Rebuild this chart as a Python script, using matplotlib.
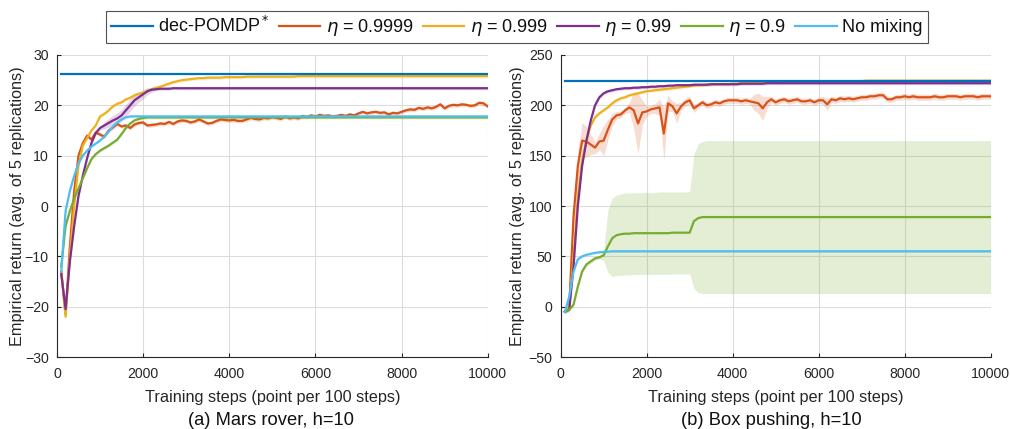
import numpy as np
import matplotlib
matplotlib.use("Agg")
import matplotlib.pyplot as plt

plt.rcParams['font.family'] = ['Liberation Sans', 'DejaVu Sans']
plt.rcParams['mathtext.fontset'] = 'dejavusans'

steps = list(range(100, 10001, 100))

labels = ['dec-POMDP$^*$', r'$\eta$ = 0.9999', r'$\eta$ = 0.999', r'$\eta$ = 0.99',
          r'$\eta$ = 0.9', 'No mixing']
colors = ['#0072BD', '#D95319', '#EDB120', '#7E2F8E', '#77AC30', '#4DBEEE']

# ---------------- Mars rover ----------------
mars_opt = 26.3
mars_e9999 = [-13, -21.5, -8, 3, 10, 12.5, 14, 13.2, 14.6, 14.2,
              13.8, 15, 15.6, 16.3, 15.8, 16, 15.5, 16.2, 16.5, 16.6,
              16, 16.1, 16.2, 16.4, 16.3, 16.7, 16.3, 16.8, 17, 16.9,
              16.6, 16.8, 17.2, 16.8, 16.4, 16.5, 16.9, 17.2, 17.1, 17,
              17.1, 16.9, 16.9, 17.2, 17.5, 17.3, 17.2, 17.5, 17.4, 17.7,
              17.5, 17.3, 17.8, 17.4, 17.6, 17.4, 17.9, 17.7, 18, 17.8,
              18.1, 17.9, 18, 17.8, 17.9, 18.1, 17.9, 18.2, 18, 18.4,
              18.7, 18.4, 18.6, 18.7, 18.5, 18.6, 18.2, 18.5, 18.4, 18.7,
              19, 19.2, 19.1, 19.5, 19.3, 19.6, 19.4, 19.7, 20.2, 19.4,
              19.9, 20.1, 20, 20.2, 20.1, 19.9, 20, 20.5, 20.4, 19.8]
mars_e999 = [-13, -22, -10, 0, 8, 12, 13.5, 15, 16, 17.8,
             18.3, 19, 19.8, 20.3, 20.6, 21.2, 21.5, 22, 22.3, 22.5,
             22.9, 23.2, 23.5, 23.7, 24, 24.3, 24.6, 24.8, 25, 25.1,
             25.2, 25.3, 25.4, 25.4, 25.5, 25.5, 25.5, 25.5, 25.6, 25.6,
             25.6, 25.6, 25.6, 25.7, 25.7, 25.7, 25.7, 25.7, 25.7, 25.7,
             25.7, 25.7, 25.7, 25.7, 25.7, 25.8, 25.8, 25.8, 25.8, 25.8,
             25.8, 25.8, 25.8, 25.8, 25.8, 25.8, 25.8, 25.8, 25.8, 25.8,
             25.8, 25.8, 25.8, 25.8, 25.8, 25.8, 25.8, 25.8, 25.8, 25.8,
             25.8, 25.8, 25.8, 25.8, 25.8, 25.8, 25.8, 25.8, 25.8, 25.8,
             25.8, 25.8, 25.8, 25.8, 25.8, 25.8, 25.8, 25.8, 25.8, 25.8]
mars_e99 = [-13.5, -20.5, -11, -4, 2, 6, 9.5, 12.5, 14.5, 15.5,
            16, 16.5, 17, 17.4, 18, 19, 20, 21, 21.6, 22.2,
            22.8, 23.1, 23.2, 23.3, 23.3, 23.3, 23.4, 23.4, 23.4, 23.4,
            23.4, 23.4, 23.4, 23.4, 23.4, 23.4, 23.4, 23.4, 23.4, 23.4,
            23.4, 23.4, 23.4, 23.4, 23.4, 23.4, 23.4, 23.4, 23.4, 23.4,
            23.4, 23.4, 23.4, 23.4, 23.4, 23.4, 23.4, 23.4, 23.4, 23.4,
            23.4, 23.4, 23.4, 23.4, 23.4, 23.4, 23.4, 23.4, 23.4, 23.4,
            23.4, 23.4, 23.4, 23.4, 23.4, 23.4, 23.4, 23.4, 23.4, 23.4,
            23.4, 23.4, 23.4, 23.4, 23.4, 23.4, 23.4, 23.4, 23.4, 23.4,
            23.4, 23.4, 23.4, 23.4, 23.4, 23.4, 23.4, 23.4, 23.4, 23.4]
mars_e9 = [-12, -4, -1, 1.5, 3.5, 5.5, 7.5, 9.3, 10.3, 11,
           11.5, 12, 12.6, 13.2, 14.3, 15.5, 16.4, 17, 17.3, 17.5,
           17.6, 17.6, 17.6, 17.6, 17.6, 17.6, 17.6, 17.6, 17.6, 17.6,
           17.6, 17.6, 17.6, 17.6, 17.6, 17.6, 17.6, 17.6, 17.6, 17.6,
           17.6, 17.6, 17.6, 17.6, 17.6, 17.6, 17.6, 17.6, 17.6, 17.6,
           17.6, 17.6, 17.6, 17.6, 17.6, 17.6, 17.6, 17.6, 17.6, 17.6,
           17.6, 17.6, 17.6, 17.6, 17.6, 17.6, 17.6, 17.6, 17.6, 17.6,
           17.6, 17.6, 17.6, 17.6, 17.6, 17.6, 17.6, 17.6, 17.6, 17.6,
           17.6, 17.6, 17.6, 17.6, 17.6, 17.6, 17.6, 17.6, 17.6, 17.6,
           17.6, 17.6, 17.6, 17.6, 17.6, 17.6, 17.6, 17.6, 17.6, 17.6]
mars_nomix = [-13, -1, 3, 6, 8.5, 10, 11, 11.8, 12.4, 13,
              13.8, 14.8, 15.8, 16.6, 17.2, 17.6, 17.8, 17.8, 17.8, 17.8,
              17.8, 17.8, 17.8, 17.8, 17.8, 17.8, 17.8, 17.8, 17.8, 17.8,
              17.8, 17.8, 17.8, 17.8, 17.8, 17.8, 17.8, 17.8, 17.8, 17.8,
              17.8, 17.8, 17.8, 17.8, 17.8, 17.8, 17.8, 17.8, 17.8, 17.8,
              17.8, 17.8, 17.8, 17.8, 17.8, 17.8, 17.8, 17.8, 17.8, 17.8,
              17.8, 17.8, 17.8, 17.8, 17.8, 17.8, 17.8, 17.8, 17.8, 17.8,
              17.8, 17.8, 17.8, 17.8, 17.8, 17.8, 17.8, 17.8, 17.8, 17.8,
              17.8, 17.8, 17.8, 17.8, 17.8, 17.8, 17.8, 17.8, 17.8, 17.8,
              17.8, 17.8, 17.8, 17.8, 17.8, 17.8, 17.8, 17.8, 17.8, 17.8]
# half-widths of shaded bands (Mars rover)
mars_e9999_hw = [0.4] * 100
mars_e999_hw = [0.3] * 100
mars_e99_hw = [0.4] * 10 + [0.7, 0.9, 1.0, 1.1, 1.2, 1.2, 1.2, 1.1, 1.0, 0.9,
                            0.7, 0.5] + [0.3] * 78
mars_e9_hw = [0.3] * 100
mars_nomix_hw = [0.2] * 100

# ---------------- Box pushing ----------------
box_opt = 224
box_e9999 = [-5, 0, 90, 140, 165, 164, 161, 158, 164, 165,
             176, 186, 190, 191, 195, 198, 195, 182, 193, 194,
             196, 197, 198, 172, 202, 199, 192, 199, 203, 205,
             197, 200, 203, 200, 201, 203, 202, 204, 205, 205,
             205, 204, 205, 204, 203, 202, 197, 203, 206, 203,
             205, 206, 204, 205, 206, 204, 204, 205, 203, 205,
             205, 201, 206, 205, 207, 206, 207, 206, 207, 208,
             208, 209, 209, 210, 210, 206, 206, 208, 208, 209,
             208, 209, 208, 208, 208, 208, 209, 208, 208, 209,
             209, 209, 208, 209, 209, 209, 208, 209, 209, 209]
box_e9999_hw = [2, 2, 10, 15, 18, 15, 10, 6, 8, 15,
                10, 6, 4, 3, 3, 5, 18, 30, 12, 5,
                4, 5, 8, 26, 8, 5, 10, 4, 4, 4,
                4, 3, 3, 3, 3, 3, 3, 3, 3, 3,
                3, 3, 3, 3, 8, 10, 12, 6, 3, 3,
                3, 3, 3, 3, 3, 3, 3, 3, 3, 3,
                4, 6, 3, 3, 3, 3, 3, 3, 3, 3,
                3, 3, 3, 3, 3, 3, 3, 3, 3, 3,
                3, 3, 3, 3, 3, 3, 3, 3, 3, 3,
                3, 3, 3, 3, 3, 3, 3, 3, 3, 3]
box_e999 = [-5, 0, 50, 110, 145, 165, 180, 188, 192, 195,
            198, 202, 205, 207, 208, 210, 211, 212, 213, 214,
            214.5, 215, 215.5, 216, 216.5, 217, 217.5, 218, 218.5, 219,
            219.5, 220, 220, 220.5, 220.5, 221, 221, 221, 221, 221.5,
            221.5, 222, 222, 222, 222.5, 222.5, 222.5, 223, 223, 223,
            223, 223.5, 223.5, 223.5, 223.5, 224, 224, 224, 224, 224,
            224, 224, 224, 224, 224, 224, 224, 224, 224, 224,
            224.5, 224.5, 224.5, 224.5, 224.5, 224.5, 224.5, 224.5, 224.5, 224.5,
            224.5, 224.5, 224.5, 224.5, 224.5, 224.5, 224.5, 224.5, 224.5, 224.5,
            224.5, 224.5, 224.5, 224.5, 224.5, 224.5, 224.5, 224.5, 224.5, 224.5]
box_e99 = [-5, -3, 40, 100, 140, 165, 185, 200, 208, 212,
           214, 215, 216, 216.5, 217, 217, 217.5, 217.5, 218, 218,
           218.5, 218.5, 219, 219, 219.5, 219.5, 220, 220, 220, 220,
           220.5, 220.5, 220.5, 220.5, 221, 221, 221, 221, 221, 221,
           221, 221.5, 221.5, 221.5, 221.5, 221.5, 221.5, 222, 222, 222,
           222, 222, 222, 222, 222, 222, 222, 222, 222, 222,
           222, 222, 222, 222, 222, 222, 222, 222, 222, 222,
           222, 222, 222, 222, 222, 222, 222, 222, 222, 222,
           222, 222, 222, 222, 222, 222, 222, 222, 222, 222,
           222, 222, 222, 222, 222, 222, 222, 222, 222, 222]
box_e9 = [-5, -3, 2, 20, 35, 42, 45, 48, 49, 51,
          60, 68, 71, 72, 72.5, 72.5, 73, 73, 73, 73,
          73, 73, 73, 73, 73, 73.5, 73.5, 73.5, 73.5, 73.5,
          85, 88, 89, 89, 89, 89, 89, 89, 89, 89,
          89, 89, 89, 89, 89, 89, 89, 89, 89, 89,
          89, 89, 89, 89, 89, 89, 89, 89, 89, 89,
          89, 89, 89, 89, 89, 89, 89, 89, 89, 89,
          89, 89, 89, 89, 89, 89, 89, 89, 89, 89,
          89, 89, 89, 89, 89, 89, 89, 89, 89, 89,
          89, 89, 89, 89, 89, 89, 89, 89, 89, 89]
box_e9_low = [-7, -5, 0, 18, 33, 40, 43, 46, 47, 46,
              34, 30, 31, 31, 31.5, 31.5, 32, 32, 32, 32,
              32, 32, 32, 32, 32, 32.5, 32.5, 32.5, 32.5, 32.5,
              18, 14, 13, 13, 13, 13, 13, 13, 13, 13,
              13, 13, 13, 13, 13, 13, 13, 13, 13, 13,
              13, 13, 13, 13, 13, 13, 13, 13, 13, 13,
              13, 13, 13, 13, 13, 13, 13, 13, 13, 13,
              13, 13, 13, 13, 13, 13, 13, 13, 13, 13,
              13, 13, 13, 13, 13, 13, 13, 13, 13, 13,
              13, 13, 13, 13, 13, 13, 13, 13, 13, 13]
box_e9_high = [-3, -1, 4, 22, 37, 44, 47, 50, 51, 56,
               96, 108, 111, 112, 113, 113, 113, 113, 113.5, 113.5,
               113.5, 113.5, 114, 114, 114, 114, 114, 114, 114, 114.5,
               152, 162, 164, 165, 165, 165, 165, 165, 165, 165,
               165, 165, 165, 165, 165, 165, 165, 165, 165, 165,
               165, 165, 165, 165, 165, 165, 165, 165, 165, 165,
               165, 165, 165, 165, 165, 165, 165, 165, 165, 165,
               165, 165, 165, 165, 165, 165, 165, 165, 165, 165,
               165, 165, 165, 165, 165, 165, 165, 165, 165, 165,
               165, 165, 165, 165, 165, 165, 165, 165, 165, 165]
box_nomix = [-5, 10, 35, 47, 50, 51.5, 52.5, 53.5, 54, 54.5,
             54.7, 55, 55, 55, 55, 55, 55, 55, 55, 55,
             55, 55, 55, 55, 55, 55, 55, 55, 55, 55,
             55, 55, 55, 55, 55, 55, 55, 55, 55, 55,
             55, 55, 55, 55, 55, 55, 55, 55, 55, 55,
             55, 55, 55, 55, 55, 55, 55, 55, 55, 55,
             55, 55, 55, 55, 55, 55, 55, 55, 55, 55,
             55, 55, 55, 55, 55, 55, 55, 55, 55, 55,
             55, 55, 55, 55, 55, 55, 55, 55, 55, 55,
             55, 55, 55, 55, 55, 55, 55, 55, 55, 55]
box_e999_hw = [1.5] * 100
box_e99_hw = [1.5] * 100
box_nomix_hw = [1.0] * 100

x_ticks = [0, 2000, 4000, 6000, 8000, 10000]
mars_yticks = [-30, -20, -10, 0, 10, 20, 30]
box_yticks = [-50, 0, 50, 100, 150, 200, 250]

text_col = '#262626'
fig = plt.figure(figsize=(10.10, 4.29), dpi=100)
ax1 = fig.add_axes([0.0564, 0.1678, 0.4265, 0.704])
ax2 = fig.add_axes([0.5551, 0.1678, 0.4257, 0.704])

x = np.array(steps)


def draw(ax, opt, series, bands, yticks, ylim, caption, cx, lblx):
    ax.plot([x[0], x[-1]], [opt, opt], color=colors[0], lw=1.6, zorder=5)
    for (y, band, c) in zip(series, bands, colors[1:]):
        y = np.array(y, dtype=float)
        if band is not None:
            lo, hi = band
            ax.fill_between(x, lo, hi, color=c, alpha=0.2, lw=0, zorder=2)
        ax.plot(x, y, color=c, lw=1.6, zorder=4)
    ax.set_xlim(0, 10000)
    ax.set_ylim(*ylim)
    ax.set_xticks(x_ticks)
    ax.set_yticks(yticks)
    ax.grid(True, color='#dcdcdc', lw=0.8)
    ax.set_axisbelow(True)
    for s in ['top', 'right']:
        ax.spines[s].set_visible(False)
    for s in ['left', 'bottom']:
        ax.spines[s].set_color(text_col)
        ax.spines[s].set_linewidth(0.8)
    ax.tick_params(direction='in', length=3, width=0.8, colors=text_col,
                   labelsize=10.2)
    ax.tick_params(axis='x', pad=7)
    ax.tick_params(axis='y', pad=6)
    ax.set_xlabel('Training steps (point per 100 steps)', fontsize=11.7, color=text_col)
    ax.set_ylabel('Empirical return (avg. of 5 replications)', fontsize=11.7, color=text_col)
    ax.xaxis.set_label_coords(0.5, -0.108)
    ax.yaxis.set_label_coords(lblx, 0.5)
    fig.text(cx, 1 - 425 / 429, caption, ha='center', va='baseline', fontsize=13.2, color='#111111')


def hw_band(y, hw):
    y = np.array(y, dtype=float)
    h = np.array(hw, dtype=float)
    return (y - h, y + h)


draw(ax1, mars_opt,
     [mars_e9999, mars_e999, mars_e99, mars_e9, mars_nomix],
     [hw_band(mars_e9999, mars_e9999_hw), hw_band(mars_e999, mars_e999_hw),
      hw_band(mars_e99, mars_e99_hw), hw_band(mars_e9, mars_e9_hw),
      hw_band(mars_nomix, mars_nomix_hw)],
     mars_yticks, (-30, 30), '(a) Mars rover, h=10', 271 / 1010, -0.074)
draw(ax2, box_opt,
     [box_e9999, box_e999, box_e99, box_e9, box_nomix],
     [hw_band(box_e9999, box_e9999_hw), hw_band(box_e999, box_e999_hw),
      hw_band(box_e99, box_e99_hw), (np.array(box_e9_low), np.array(box_e9_high)),
      hw_band(box_nomix, box_nomix_hw)],
     box_yticks, (-50, 250), '(b) Box pushing, h=10', 771 / 1010, -0.083)

handles = [plt.Line2D([], [], color=c, lw=1.6) for c in colors]
leg = fig.legend(handles, labels, loc='center', bbox_to_anchor=(517 / 1010, 1 - 27 / 429), ncol=6,
                 fontsize=13, frameon=True, fancybox=False, edgecolor='#262626',
                 handlelength=2.3, handletextpad=0.3, columnspacing=0.5,
                 borderpad=0.3, borderaxespad=0)
leg.get_frame().set_linewidth(0.8)
for t in leg.get_texts():
    t.set_color('#111111')

fig.savefig('out.png', dpi=100)
